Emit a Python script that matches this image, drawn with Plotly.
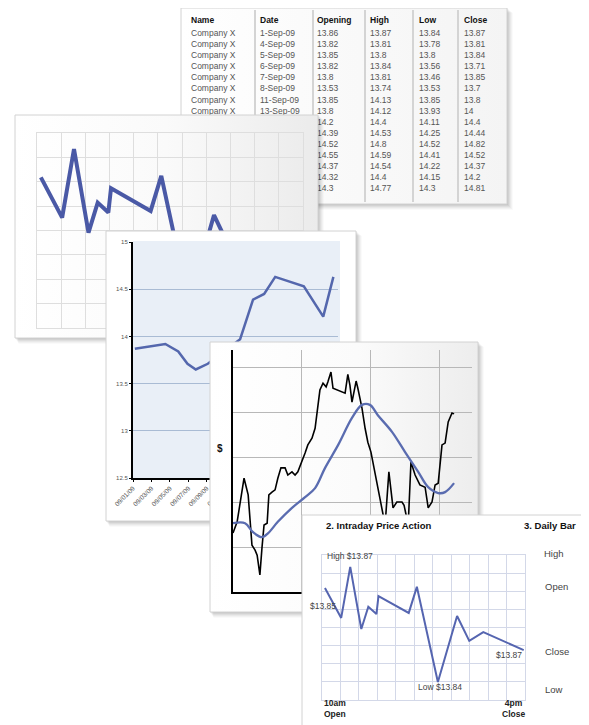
import plotly.graph_objects as go

W, H = 589, 725          # reference picture size
OFF = 8                  # the page body margin shifts the figure by this much
FW, FH = W - OFF, H - OFF
FONT = "Liberation Sans, Arial, sans-serif"

# ---------------- data ----------------
table_headers = ["Name", "Date", "Opening", "High", "Low", "Close"]
table_names = ["Company X"] * 15
table_dates = ["1-Sep-09", "4-Sep-09", "5-Sep-09", "6-Sep-09", "7-Sep-09",
               "8-Sep-09", "11-Sep-09", "13-Sep-09", "14-Sep-09", "15-Sep-09",
               "18-Sep-09", "19-Sep-09", "20-Sep-09", "21-Sep-09", "22-Sep-09"]
table_open = [13.86, 13.82, 13.85, 13.82, 13.8, 13.53, 13.85, 13.8, 14.2, 14.39,
              14.52, 14.55, 14.37, 14.32, 14.3]
table_high = [13.87, 13.81, 13.8, 13.84, 13.81, 13.74, 14.13, 14.12, 14.4, 14.53,
              14.8, 14.59, 14.54, 14.4, 14.77]
table_low = [13.84, 13.78, 13.8, 13.56, 13.46, 13.53, 13.85, 13.93, 14.11, 14.25,
             14.52, 14.41, 14.22, 14.15, 14.3]
table_close = [13.87, 13.81, 13.84, 13.71, 13.85, 13.7, 13.8, 14, 14.4, 14.44,
               14.82, 14.52, 14.37, 14.2, 14.81]

# intraday price action (cards 1 and 4)
intraday_t = [0.16, 1.04, 1.53, 2.13, 2.51, 2.95, 3.06, 4.70, 5.14, 6.28, 7.32, 7.98, 8.74, 10.93]
intraday_price = [13.8645, 13.8567, 13.8700, 13.8538, 13.8596, 13.8577, 13.8624, 13.8580,
                  13.8648, 13.8400, 13.8572, 13.8507, 13.8530, 13.8483]
intraday_labels = ["High $13.87", "$13.85", "Low $13.84", "$13.87"]

# closing prices (card 2)
closing_day = [0.2, 3.5, 4.9, 5.9, 6.8, 8.1, 11.6, 13.0, 14.2, 15.4, 18.5, 20.6, 21.7]
closing_price = [13.87, 13.92, 13.84, 13.71, 13.65, 13.71, 13.97, 14.39, 14.45, 14.63,
                 14.53, 14.21, 14.63]
closing_tick_days = [0, 2, 4, 6, 8, 10, 12, 14, 16, 18, 20, 22]
closing_tick_labels = ["09/01/09", "09/03/09", "09/05/09", "09/07/09", "09/09/09", "09/11/09",
                       "09/13/09", "09/15/09", "09/17/09", "09/19/09", "09/21/09", "09/23/09"]
closing_yticks = [12.5, 13, 13.5, 14, 14.5, 15]

# price trend with moving average (card 3)
trend_day = [0, 1.2, 3.2, 4.4, 5.5, 6.4, 7.0, 7.8, 8.4, 9.0, 9.9, 10.4, 11.3, 12.2, 13.0,
             13.9, 15.1, 15.9, 17.1, 18.0, 18.8, 20.0, 20.9, 21.7, 22.9, 23.8, 25.2, 26.1,
             27.0, 27.5, 28.4, 29.0, 30.2, 31.6, 32.5, 33.3, 33.9, 34.5, 35.7, 36.2, 37.4,
             38.3, 39.1, 40.0, 40.9, 42.0, 43.2, 44.1, 45.2, 46.4, 47.5, 49.0, 49.6, 50.8,
             51.6, 52.8, 54.2, 55.7, 56.6, 57.7, 58.6, 59.5, 60.6, 61.5, 62.4, 63.5, 64.1]
trend_price = [13.731, 13.756, 13.853, 13.816, 13.704, 13.693, 13.682, 13.638, 13.698, 13.749,
               13.753, 13.816, 13.822, 13.827, 13.853, 13.876, 13.876, 13.860, 13.867, 13.860,
               13.867, 13.889, 13.909, 13.927, 13.942, 13.964, 14.049, 14.064, 14.056, 14.067,
               14.089, 14.053, 14.049, 14.044, 14.042, 14.084, 14.060, 14.022, 14.069, 14.053,
               14.009, 13.964, 13.933, 13.911, 13.876, 13.831, 13.787, 13.749, 13.867, 13.787,
               13.800, 13.800, 13.793, 13.749, 13.889, 13.860, 13.838, 13.833, 13.787, 13.800,
               13.838, 13.842, 13.927, 13.931, 13.978, 13.998, 13.996]
ma_day = [0, 3.5, 5.8, 8.4, 10.2, 13.0, 17.1, 20.9, 23.8, 26.7, 30.5, 34.5, 37.4, 39.7,
          42.0, 46.1, 49.9, 53.7, 56.6, 59.5, 61.5, 64.1]
ma_price = [13.753, 13.753, 13.733, 13.722, 13.731, 13.756, 13.787, 13.811, 13.831, 13.876,
            13.927, 13.987, 14.016, 14.016, 13.993, 13.956, 13.911, 13.867, 13.833, 13.820,
            13.822, 13.842]

# ---------------- helpers ----------------
traces = []
layout_axes = {}


def fx(px):
    return (px - OFF) / FW


def fy_(py):
    return 1 - (py - OFF) / FH


def pxdom(x0, y0, x1, y1):
    return [fx(x0), fx(x1)], [fy_(y1), fy_(y0)]


def names(n):
    s = "" if n == 1 else str(n)
    return "x" + s, "y" + s, "xaxis" + s, "yaxis" + s


def set_axes(n, xdom, ydom, xkw, ykw):
    xa, ya, xk, yk = names(n)
    layout_axes[xk] = dict(domain=xdom, anchor=ya, fixedrange=True, zeroline=False,
                           automargin=False, **xkw)
    layout_axes[yk] = dict(domain=ydom, anchor=xa, fixedrange=True, zeroline=False,
                           automargin=False, **ykw)


def pixel_subplot(n):
    set_axes(n, [0, 1], [0, 1], dict(range=[OFF, W], visible=False),
             dict(range=[H, OFF], visible=False))


def poly(n, xs, ys, **kw):
    xa, ya, _, _ = names(n)
    d = dict(x=xs, y=ys, xaxis=xa, yaxis=ya, mode="lines", hoverinfo="skip",
             showlegend=False)
    d.update(kw)
    traces.append(go.Scatter(**d))


def box(x0, y0, x1, y1):
    return [x0, x1, x1, x0, x0], [y0, y0, y1, y1, y0]


SHADOW = [(6, 0.02), (5, 0.03), (4, 0.035), (3, 0.045), (2, 0.05), (1, 0.05)]


def card(n, x0, y0, x1, y1, fy=lambda v: v, fill="#ffffff", grad=None, border="#d2d2d2"):
    for d, a in SHADOW:
        xs, ys = box(x0 + d * 0.6, y0 + d * 0.8, x1 + d, y1 + d)
        poly(n, xs, [fy(v) for v in ys], fill="toself",
             fillcolor="rgba(0,0,0,%s)" % a, line=dict(width=0))
    xs, ys = box(x0, y0, x1, y1)
    kw = dict(fillcolor=fill)
    if grad:
        kw = dict(fillgradient=dict(type="horizontal", colorscale=grad))
    poly(n, xs, [fy(v) for v in ys], fill="toself", line=dict(color=border, width=1), **kw)


# ---------------- 1: table card ----------------
ROW0, ROW_H = 34, 11.07


def row_of(py):
    return (py - ROW0) / ROW_H


set_axes(1, [0, 1], [0, 1], dict(range=[OFF, W], visible=False),
         dict(range=[row_of(H), row_of(OFF)], visible=False))
card(1, 181, 8, 507, 204, fy=row_of, grad=[[0, "#ffffff"], [1, "#f4f4f4"]])
for sx in [255, 313, 365, 413, 458]:
    poly(1, [sx, sx], [row_of(10), row_of(202)], line=dict(color="#d4d4d4", width=2))

col_x = [191, 260, 317, 370, 419, 464]
fmt = lambda v: ("%g" % v)
body_cols = [table_names, table_dates, [fmt(v) for v in table_open],
             [fmt(v) for v in table_high], [fmt(v) for v in table_low],
             [fmt(v) for v in table_close]]
poly(1, col_x, [row_of(21)] * len(col_x), mode="text", text=table_headers,
     textposition="middle right",
     textfont=dict(family=FONT, size=8.5, color="#111", weight="bold"))
for i, col in enumerate(body_cols):
    poly(1, [col_x[i]] * len(col), list(range(len(col))), mode="text", text=col,
         textposition="middle right", textfont=dict(family=FONT, size=8.5, color="#555"))

# ---------------- 2/3: card 1 (intraday, thick line) ----------------
pixel_subplot(2)
card(2, 15, 115, 318, 338, grad=[[0, "#ffffff"], [0.5, "#fafafa"], [1, "#ebebeb"]])
xd, yd = pxdom(37, 133, 303, 328)
IY = [13.8353, 13.8731]
grid1 = "#dedede"
set_axes(3, xd, yd,
         dict(range=[0, 11], dtick=1, tick0=0, showgrid=True, gridcolor=grid1,
              showline=True, mirror=True, linecolor=grid1, showticklabels=False, ticks=""),
         dict(range=IY, dtick=(IY[1] - IY[0]) / 8, tick0=IY[0], showgrid=True,
              gridcolor=grid1, showline=True, mirror=True, linecolor=grid1,
              showticklabels=False, ticks=""))
poly(3, intraday_t, intraday_price, line=dict(color="#4a59a6", width=4))

# ---------------- 4/5: card 2 (closing prices) ----------------
pixel_subplot(4)
card(4, 106, 231, 356, 521)
poly(4, *box(133, 241, 340, 478), fill="toself", fillcolor="#e9eff7", line=dict(width=0))
xd, yd = pxdom(133, 242, 338, 478)
set_axes(5, xd, yd,
         dict(range=[0, 22.2], tickvals=closing_tick_days, ticktext=closing_tick_labels,
              tickangle=-45, tickfont=dict(family=FONT, size=6.5, color="#555"),
              showgrid=False, showline=True, linecolor="#000", linewidth=2,
              ticks="outside", ticklen=2, tickcolor="#000"),
         dict(range=[12.5, 15], tickvals=closing_yticks,
              ticktext=["%g" % v for v in closing_yticks],
              tickfont=dict(family=FONT, size=6, color="#555"), showgrid=True,
              gridcolor="#a9bbd4", showline=True, linecolor="#000", linewidth=2,
              ticks="outside", ticklen=2, tickcolor="#000"))
poly(5, closing_day, closing_price, line=dict(color="#5467ad", width=2.5))

# ---------------- 6/7: card 3 (price with moving average) ----------------
pixel_subplot(6)
card(6, 210, 342, 478, 612, grad=[[0, "#ffffff"], [0.55, "#fbfbfb"], [1, "#ededed"]])
xd, yd = pxdom(233, 350, 472, 592)
TY = [13.6, 14.138]
set_axes(7, xd, yd,
         dict(range=[0, 69.3], dtick=20, tick0=0, showgrid=True, gridcolor="#b8b8b8",
              showline=True, linecolor="#000", linewidth=2, showticklabels=False, ticks=""),
         dict(range=TY, dtick=0.1, tick0=13.6, showgrid=True,
              gridcolor="#b8b8b8", showline=True, linecolor="#000", linewidth=2,
              showticklabels=False, ticks=""))
poly(7, trend_day, trend_price, line=dict(color="#000000", width=1.6))
poly(7, ma_day, ma_price, line=dict(color="#5a6cb0", width=2.3, shape="spline"))

# ---------------- 8/9: card 4 (intraday price action) ----------------
pixel_subplot(8)
card(8, 302, 515, 600, 740)
xd, yd = pxdom(322, 555, 525, 700)
grid4 = "#d3d8e8"
set_axes(9, xd, yd,
         dict(range=[0, 11], dtick=1, tick0=0, showgrid=True, gridcolor=grid4,
              showline=True, mirror=True, linecolor=grid4, showticklabels=False, ticks=""),
         dict(range=IY, dtick=(IY[1] - IY[0]) / 8, tick0=IY[0], showgrid=True,
              gridcolor=grid4, showline=True, mirror=True, linecolor=grid4,
              showticklabels=False, ticks=""))
poly(9, intraday_t, intraday_price, line=dict(color="#5565b0", width=2))

# ---------------- annotations ----------------
annotations = []


def note(text, px, py, xanchor="left", size=8.5, color="#333", bold=False):
    annotations.append(dict(text=text, x=fx(px), y=fy_(py), xref="paper", yref="paper",
                            xanchor=xanchor, yanchor="middle", showarrow=False,
                            font=dict(family=FONT, size=size, color=color,
                                      weight="bold" if bold else "normal")))


note("$", 220, 448, "center", 10, "#111", True)
note("2. Intraday Price Action", 324, 525, "left", 9.5, "#111", True)
note("3. Daily Bar", 578, 525, "right", 9.5, "#111", True)
note("High", 542, 553, "left", 9.5, "#444")
note("Open", 543, 586, "left", 9.5, "#444")
note("Close", 543, 651, "left", 9.5, "#444")
note("Low", 543, 689, "left", 9.5, "#444")
note(intraday_labels[0], 350, 556, "center", 8.5, "#444")
note(intraday_labels[1], 338, 606, "right", 8.5, "#444")
note(intraday_labels[2], 440, 687, "center", 8.5, "#444")
note(intraday_labels[3], 524, 655, "right", 8.5, "#444")
note("10am<br>Open", 322, 708, "left", 8.5, "#222", True)
note("4pm<br>Close", 527, 708, "right", 8.5, "#222", True)

fig = go.Figure(data=traces)
fig.update_layout(width=FW, height=FH,
                  margin=dict(l=0, r=0, t=0, b=0, pad=0, autoexpand=False),
                  paper_bgcolor="#ffffff", plot_bgcolor="rgba(0,0,0,0)",
                  showlegend=False, annotations=annotations, **layout_axes)
fig.write_html("out.html")
